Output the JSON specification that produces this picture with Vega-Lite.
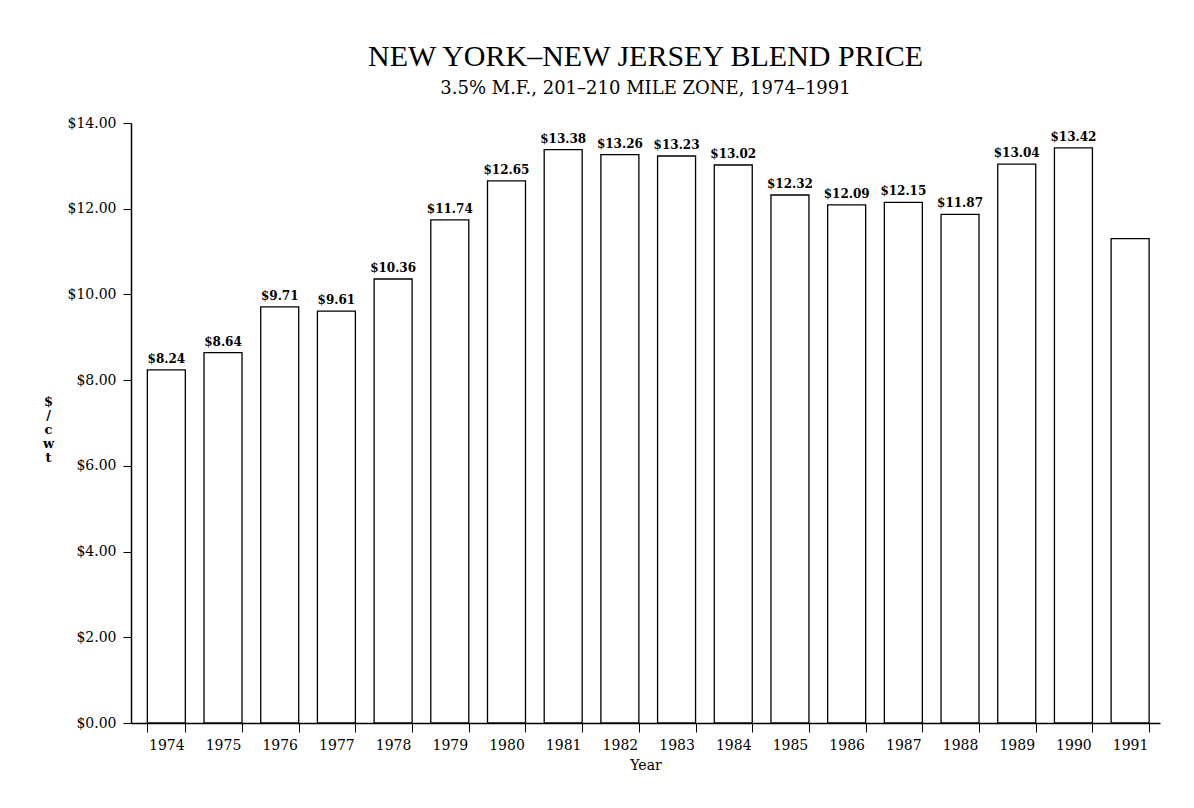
{
  "$schema": "https://vega.github.io/schema/vega-lite/v6.json",
  "autosize": "none",
  "width": 1029,
  "height": 600,
  "padding": {"left": 131, "top": 123, "right": 34, "bottom": 85},
  "background": "white",
  "title": {
    "text": "NEW YORK\u2013NEW JERSEY BLEND PRICE",
    "subtitle": "3.5% M.F., 201\u2013210 MILE ZONE, 1974\u20131991",
    "font": "Liberation Serif",
    "fontSize": 30,
    "fontWeight": "normal",
    "color": "black",
    "subtitleFont": "DejaVu Serif",
    "subtitleFontSize": 18,
    "subtitleColor": "black",
    "subtitlePadding": 8,
    "anchor": "middle",
    "offset": 18
  },
  "data": {
    "values": [
      {"year": "1974", "price": 8.24, "label": "$8.24"},
      {"year": "1975", "price": 8.64, "label": "$8.64"},
      {"year": "1976", "price": 9.71, "label": "$9.71"},
      {"year": "1977", "price": 9.61, "label": "$9.61"},
      {"year": "1978", "price": 10.36, "label": "$10.36"},
      {"year": "1979", "price": 11.74, "label": "$11.74"},
      {"year": "1980", "price": 12.65, "label": "$12.65"},
      {"year": "1981", "price": 13.38, "label": "$13.38"},
      {"year": "1982", "price": 13.26, "label": "$13.26"},
      {"year": "1983", "price": 13.23, "label": "$13.23"},
      {"year": "1984", "price": 13.02, "label": "$13.02"},
      {"year": "1985", "price": 12.32, "label": "$12.32"},
      {"year": "1986", "price": 12.09, "label": "$12.09"},
      {"year": "1987", "price": 12.15, "label": "$12.15"},
      {"year": "1988", "price": 11.87, "label": "$11.87"},
      {"year": "1989", "price": 13.04, "label": "$13.04"},
      {"year": "1990", "price": 13.42, "label": "$13.42"},
      {"year": "1991", "price": 11.3, "label": ""}
    ]
  },
  "encoding": {
    "x": {
      "field": "year",
      "type": "ordinal",
      "scale": {"paddingInner": 0.33, "paddingOuter": 0.24, "align": 0.6},
      "axis": {
        "title": "Year",
        "titleFont": "DejaVu Serif",
        "titleFontSize": 14,
        "titleFontWeight": "normal",
        "titleColor": "black",
        "titlePadding": 6,
        "labelFont": "DejaVu Serif",
        "labelFontSize": 14,
        "labelColor": "black",
        "labelAngle": 0,
        "labelPadding": 6,
        "tickBand": "extent",
        "tickSize": 9,
        "tickColor": "black",
        "domainColor": "black",
        "domainWidth": 1.5
      }
    },
    "y": {
      "field": "price",
      "type": "quantitative",
      "scale": {"domain": [0, 14], "nice": false},
      "axis": {
        "values": [0, 2, 4, 6, 8, 10, 12, 14],
        "format": "$.2f",
        "grid": false,
        "title": ["$", "/", "c", "w", "t"],
        "titleAngle": 0,
        "titleX": -83,
        "titleY": 272,
        "titleAlign": "center",
        "titleBaseline": "top",
        "titleLineHeight": 14,
        "titleFont": "DejaVu Serif",
        "titleFontSize": 13,
        "titleFontWeight": "bold",
        "titleColor": "black",
        "labelFont": "DejaVu Serif",
        "labelFontSize": 14,
        "labelColor": "black",
        "labelPadding": 7,
        "tickSize": 8,
        "tickColor": "black",
        "domainColor": "black",
        "domainWidth": 1.5
      }
    }
  },
  "layer": [
    {
      "mark": {"type": "bar", "fill": "white", "stroke": "black", "strokeWidth": 1.3}
    },
    {
      "mark": {
        "type": "text",
        "baseline": "bottom",
        "dy": -4,
        "font": "DejaVu Serif",
        "fontSize": 12,
        "fontWeight": "bold",
        "color": "black"
      },
      "encoding": {"text": {"field": "label", "type": "nominal"}}
    }
  ],
  "config": {"view": {"stroke": null}}
}
